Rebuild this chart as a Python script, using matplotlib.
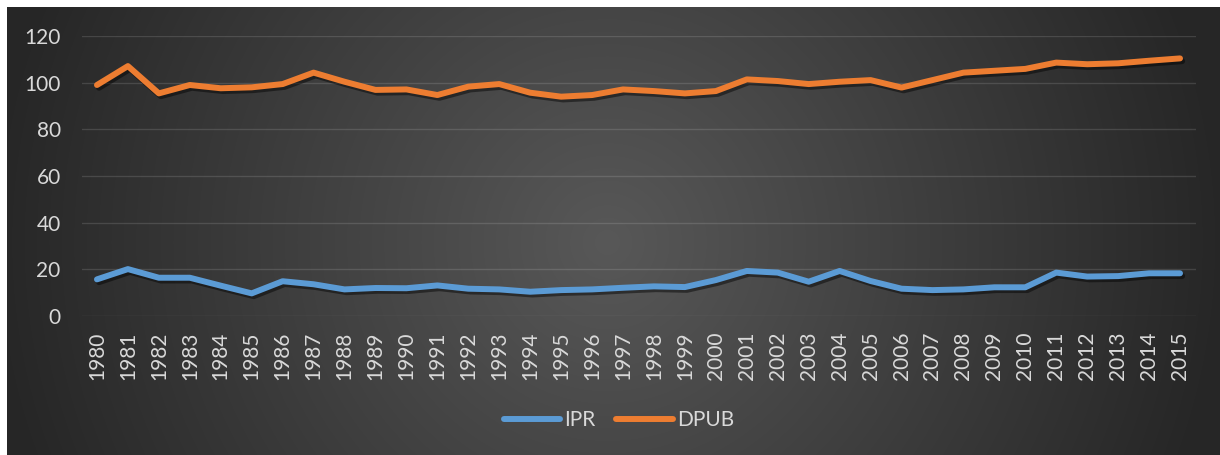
import numpy as np
import matplotlib
matplotlib.use('Agg')
import matplotlib.pyplot as plt
import matplotlib.patheffects as pe

years = list(range(1980, 2016))
ipr = [15.7, 20.1, 16.4, 16.4, 13.0, 9.7, 14.9, 13.6, 11.4, 12.0,
       11.9, 13.1, 11.7, 11.4, 10.4, 11.1, 11.4, 12.1, 12.7, 12.4,
       15.4, 19.3, 18.6, 14.7, 19.3, 15.0, 11.7, 11.1, 11.4, 12.3,
       12.3, 18.6, 16.9, 17.1, 18.3, 18.3]
dpub = [99.0, 107.1, 95.4, 99.0, 97.6, 98.0, 99.4, 104.3, 100.4, 96.9,
        97.1, 94.7, 98.3, 99.4, 95.7, 94.0, 94.7, 97.1, 96.4, 95.4,
        96.4, 101.4, 100.7, 99.4, 100.4, 101.1, 97.9, 101.1, 104.3, 105.1,
        105.9, 108.6, 107.9, 108.3, 109.4, 110.4]

plt.rcParams['font.family'] = ['Lato', 'DejaVu Sans']
txt = '#d9d9d9'

W, H = 1220, 455
fig = plt.figure(figsize=(W/100, H/100), dpi=100, facecolor='white')

# radial gradient background
bg = fig.add_axes([7/W, 0, (W-7)/W, (H-7)/H], zorder=-1)
yy, xx = np.mgrid[0:448, 0:1213]
r = np.sqrt(((xx-600)/620.0)**2 + ((yy-235)/620.0)**2)
r = np.clip(r, 0, 1)
g = (0x58 - (0x58-0x26)*r) / 255.0
img = np.dstack([g, g, g])
bg.imshow(img, aspect='auto', interpolation='bilinear')
bg.axis('off')

ax = fig.add_axes([81.5/W, (H-316)/H, (1195.5-81.5)/W, 280/H])
ax.set_facecolor('none')
x = np.arange(len(years))
shadow = [pe.SimpleLineShadow(offset=(1.5, -2), shadow_color='black', alpha=0.45), pe.Normal()]
ax.plot(x, ipr, color='#5b9bd5', lw=4.3, solid_capstyle='round', solid_joinstyle='round',
        label='IPR', path_effects=shadow)
ax.plot(x, dpub, color='#ed7d31', lw=4.3, solid_capstyle='round', solid_joinstyle='round',
        label='DPUB', path_effects=shadow)

ax.set_xlim(-0.5, len(years)-0.5)
ax.set_ylim(0, 120)
ax.set_yticks(range(0, 121, 20))
ax.set_xticks(x)
ax.set_xticklabels([str(y) for y in years], rotation=90)
ax.tick_params(axis='y', length=0, pad=15, labelsize=15, labelcolor=txt)
ax.tick_params(axis='x', length=0, pad=11, labelsize=15, labelcolor=txt)
ax.grid(axis='y', color='white', alpha=0.13, lw=1)
ax.set_axisbelow(True)
for s in ax.spines.values():
    s.set_visible(False)

leg = fig.legend(loc='center', bbox_to_anchor=(619/W, (H-420)/H), ncol=2, frameon=False,
                 fontsize=15, handlelength=2.7, handletextpad=0.2, columnspacing=1.0)
for t in leg.get_texts():
    t.set_color(txt)
for l in leg.get_lines():
    l.set_path_effects([])

plt.savefig('out.png', dpi=100, facecolor='white')
